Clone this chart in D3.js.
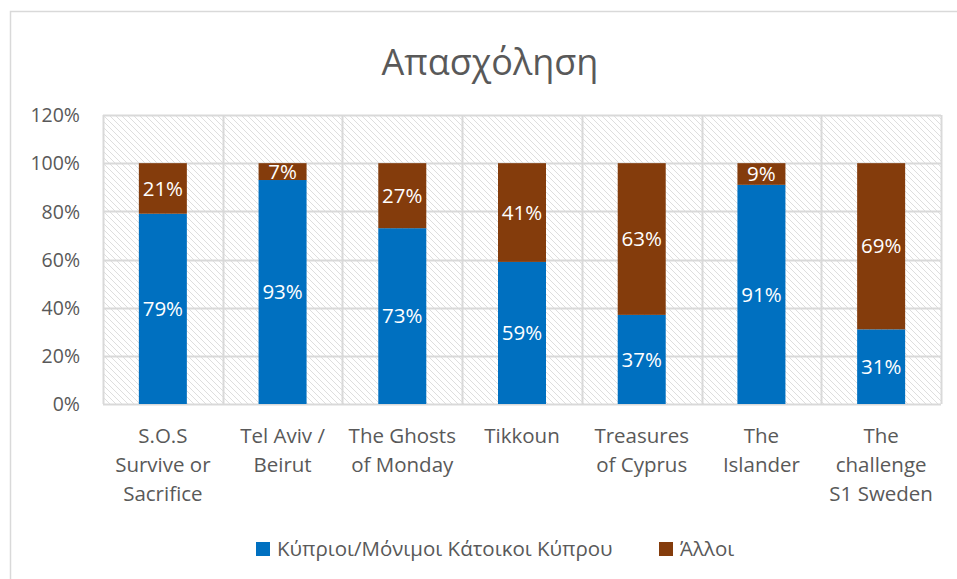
<!DOCTYPE html>
<html>
<head>
<meta charset="utf-8">
<script src="https://cdn.jsdelivr.net/npm/d3@7"></script>
<style>
  body { margin: 0; background: #fff; }
  text { font-family: "Open Sans", sans-serif; }
</style>
</head>
<body>
<div id="chart"></div>
<script>
// data
let categories = [
  ["S.O.S", "Survive or", "Sacrifice"],
  ["Tel Aviv /", "Beirut"],
  ["The Ghosts", "of Monday"],
  ["Tikkoun"],
  ["Treasures", "of Cyprus"],
  ["The", "Islander"],
  ["The", "challenge", "S1 Sweden"]
];
let cypriots = [79, 93, 73, 59, 37, 91, 31];
let others = [21, 7, 27, 41, 63, 9, 69];
let seriesNames = ["Κύπριοι/Μόνιμοι Κάτοικοι Κύπρου", "Άλλοι"];
let yTicks = [0, 20, 40, 60, 80, 100, 120];

let width = 957, height = 579;
let colors = ["#0070C0", "#843C0C"];
let textColor = "#595959";

let svg = d3.select("#chart").append("svg")
    .attr("width", width)
    .attr("height", height);

// hatched plot background
let defs = svg.append("defs");
let pat = defs.append("pattern")
    .attr("id", "hatch")
    .attr("patternUnits", "userSpaceOnUse")
    .attr("width", 6)
    .attr("height", 6);
pat.append("path")
    .attr("d", "M-1,-1 L7,7 M-1,5 L1,7 M5,-1 L7,1")
    .attr("stroke", "#dedede")
    .attr("stroke-width", 1);

// chart frame
svg.append("rect")
    .attr("x", 10.5).attr("y", 11.5)
    .attr("width", 980).attr("height", 600)
    .attr("fill", "none")
    .attr("stroke", "#d9d9d9")
    .attr("stroke-width", 1.5);

let plotLeft = 103, plotRight = 941, plotTop = 115, plotBottom = 404;

let x = d3.scaleBand()
    .domain(d3.range(categories.length))
    .range([plotLeft, plotRight])
    .paddingInner(0)
    .paddingOuter(0);

let y = d3.scaleLinear()
    .domain([0, 120])
    .range([plotBottom, plotTop]);

svg.append("rect")
    .attr("x", plotLeft).attr("y", plotTop)
    .attr("width", plotRight - plotLeft).attr("height", plotBottom - plotTop)
    .attr("fill", "url(#hatch)");

// gridlines
svg.append("g").selectAll("line")
    .data(yTicks)
    .enter()
    .append("line")
    .attr("x1", plotLeft).attr("x2", plotRight)
    .attr("y1", d => Math.round(y(d)) + 0.5)
    .attr("y2", d => Math.round(y(d)) + 0.5)
    .attr("stroke", "#d9d9d9")
    .attr("stroke-width", 2);

svg.append("g").selectAll("line")
    .data(d3.range(categories.length + 1))
    .enter()
    .append("line")
    .attr("x1", d => Math.round(plotLeft + d * x.step()) + 0.5)
    .attr("x2", d => Math.round(plotLeft + d * x.step()) + 0.5)
    .attr("y1", plotTop).attr("y2", plotBottom)
    .attr("stroke", "#d9d9d9")
    .attr("stroke-width", 2);

// y axis labels
let yAxis = d3.axisLeft(y)
    .tickValues(yTicks)
    .tickFormat(d => d + "%")
    .tickSize(0)
    .tickPadding(23);
let gy = svg.append("g")
    .attr("transform", "translate(" + plotLeft + ",0)")
    .call(yAxis);
gy.select(".domain").remove();
gy.selectAll("text")
    .attr("fill", textColor)
    .style("font-family", "'Open Sans', sans-serif")
    .style("font-size", "19.5px")
    .attr("dy", "0.35em");

// stacked bars
let barW = 48;
let stacked = cypriots.map((c, i) => [
    { s: 0, y0: 0, y1: c, v: c, i: i },
    { s: 1, y0: c, y1: c + others[i], v: others[i], i: i }
]);

let groups = svg.append("g").selectAll("g")
    .data(stacked)
    .enter()
    .append("g");

groups.selectAll("rect")
    .data(d => d)
    .enter()
    .append("rect")
    .attr("x", d => x(d.i) + x.bandwidth() / 2 - barW / 2)
    .attr("width", barW)
    .attr("y", d => y(d.y1))
    .attr("height", d => y(d.y0) - y(d.y1))
    .attr("fill", d => colors[d.s]);

groups.selectAll("text")
    .data(d => d)
    .enter()
    .append("text")
    .attr("x", d => x(d.i) + x.bandwidth() / 2)
    .attr("y", d => (y(d.y0) + y(d.y1)) / 2)
    .attr("dy", "0.35em")
    .attr("text-anchor", "middle")
    .attr("fill", "#fff")
    .style("font-size", "20.5px")
    .text(d => d.v + "%");

// category labels
let catG = svg.append("g").selectAll("text")
    .data(categories)
    .enter()
    .append("text")
    .attr("x", (d, i) => x(i) + x.bandwidth() / 2)
    .attr("y", 443)
    .attr("text-anchor", "middle")
    .attr("fill", textColor)
    .style("font-size", "20.5px");
catG.selectAll("tspan")
    .data(d => d)
    .enter()
    .append("tspan")
    .attr("x", function() { return d3.select(this.parentNode).attr("x"); })
    .attr("dy", (d, j) => j === 0 ? 0 : 29)
    .text(d => d);

// title
svg.append("text")
    .attr("x", 490)
    .attr("y", 75)
    .attr("text-anchor", "middle")
    .attr("fill", textColor)
    .style("font-size", "36px")
    .text("Απασχόληση");

// legend
let legendX = [256, 659];
let legend = svg.append("g").selectAll("g")
    .data(seriesNames)
    .enter()
    .append("g")
    .attr("transform", (d, i) => "translate(" + legendX[i] + ",542)");
legend.append("rect")
    .attr("width", 14).attr("height", 14)
    .attr("fill", (d, i) => colors[i]);
legend.append("text")
    .attr("x", 21)
    .attr("y", 7)
    .attr("dy", "0.35em")
    .attr("fill", textColor)
    .style("font-size", "20.5px")
    .text(d => d);
</script>
</body>
</html>
